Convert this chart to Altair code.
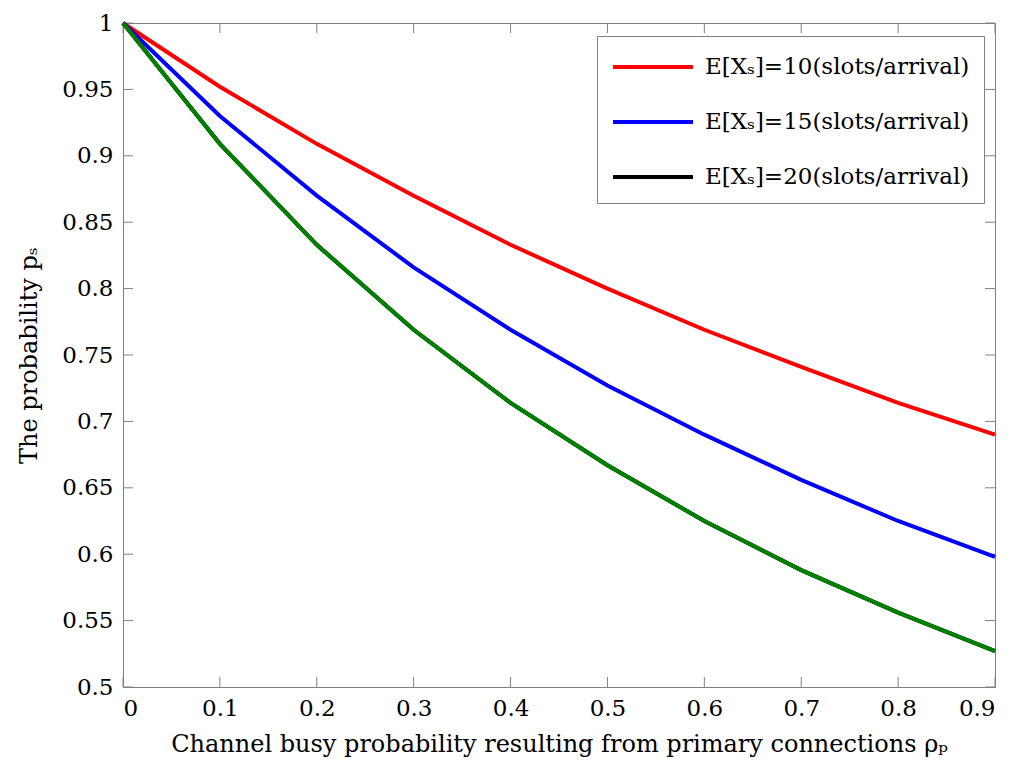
import pandas as pd
import altair as alt

# channel busy probability rho_p
rho_p = [0.0, 0.1, 0.2, 0.3, 0.4, 0.5, 0.6, 0.7, 0.8, 0.9]

# probability p_s
ps_10 = [1.000, 0.952, 0.909, 0.870, 0.833, 0.800, 0.769, 0.741, 0.714, 0.690]
ps_15 = [1.000, 0.930, 0.870, 0.816, 0.769, 0.727, 0.690, 0.656, 0.625, 0.598]
ps_20 = [1.000, 0.909, 0.833, 0.769, 0.714, 0.667, 0.625, 0.588, 0.556, 0.527]

series_labels = [
    "E[X\u209b]=10(slots/arrival)",
    "E[X\u209b]=15(slots/arrival)",
    "E[X\u209b]=20(slots/arrival)",
]
legend_colors = ["#ff0000", "#0000ff", "#000000"]

x_ticks = [0.0, 0.1, 0.2, 0.3, 0.4, 0.5, 0.6, 0.7, 0.8, 0.9]
y_ticks = [0.5, 0.55, 0.6, 0.65, 0.7, 0.75, 0.8, 0.85, 0.9, 0.95, 1.0]

FONT = "DejaVu Serif"
W, H = 872, 664
TICK = 10
FRAME = "#808080"


def build_frame():
    rows = []
    for label, vals in zip(series_labels, [ps_10, ps_15, ps_20]):
        for x, y in zip(rho_p, vals):
            rows.append({"rho": x, "ps": y, "series": label})
    return pd.DataFrame(rows)


df = build_frame()

x_scale = alt.Scale(domain=[0, 0.9], nice=False, zero=False)
y_scale = alt.Scale(domain=[0.5, 1.0], nice=False, zero=False)

x_axis = alt.Axis(values=x_ticks, format="~g", tickSize=0, grid=False,
                  labelFont=FONT, labelFontSize=23, labelColor="black",
                  titleFont=FONT, titleFontSize=24, titleColor="black",
                  titleFontWeight="normal",
                  labelPadding=10, titlePadding=12,
                  title="Channel busy probability resulting from primary connections \u03c1\u209a")
y_axis = alt.Axis(values=y_ticks, format="~g", tickSize=0, grid=False,
                  labelFont=FONT, labelFontSize=23, labelColor="black",
                  titleFont=FONT, titleFontSize=24, titleColor="black",
                  titleFontWeight="normal",
                  labelPadding=10, titlePadding=20,
                  title="The probability  p\u209b")

lines = alt.Chart(df).mark_line(strokeWidth=4).encode(
    x=alt.X("rho:Q", scale=x_scale, axis=x_axis),
    y=alt.Y("ps:Q", scale=y_scale, axis=y_axis),
    color=alt.Color("series:N",
                    scale=alt.Scale(domain=series_labels, range=legend_colors),
                    legend=alt.Legend(title=None, orient="none",
                                      legendX=474, legendY=13)),
)

# third curve is drawn green in the figure although its legend key is black
green = alt.Chart(df[df["series"] == series_labels[2]]).mark_line(
    strokeWidth=4, color="#008000"
).encode(x=alt.X("rho:Q", scale=x_scale), y=alt.Y("ps:Q", scale=y_scale))

xt = pd.DataFrame({"v": x_ticks})
yt = pd.DataFrame({"v": y_ticks})

tick_bottom = alt.Chart(xt).mark_rule(color=FRAME, strokeWidth=1).encode(
    x=alt.X("v:Q", scale=x_scale), y=alt.value(H), y2=alt.value(H - TICK))
tick_top = alt.Chart(xt).mark_rule(color=FRAME, strokeWidth=1).encode(
    x=alt.X("v:Q", scale=x_scale), y=alt.value(0), y2=alt.value(TICK))
tick_left = alt.Chart(yt).mark_rule(color=FRAME, strokeWidth=1).encode(
    y=alt.Y("v:Q", scale=y_scale), x=alt.value(0), x2=alt.value(TICK))
tick_right = alt.Chart(yt).mark_rule(color=FRAME, strokeWidth=1).encode(
    y=alt.Y("v:Q", scale=y_scale), x=alt.value(W), x2=alt.value(W - TICK))

chart = alt.layer(
    tick_bottom, tick_top, tick_left, tick_right, lines, green
).properties(
    width=W, height=H,
    autosize=alt.AutoSizeParams(type="none"),
    padding={"left": 115, "top": 15, "right": 15, "bottom": 80},
).configure_view(
    stroke=FRAME, strokeWidth=1
).configure_axis(
    domainColor=FRAME, domainWidth=1,
).configure_legend(
    labelFont=FONT, labelFontSize=23, labelColor="black", labelLimit=0,
    # 80px long key line, drawn from the left edge of a 30px symbol column
    symbolType="M-1,0L4.333,0", symbolSize=900, symbolStrokeWidth=4,
    fillColor="white", strokeColor=FRAME, padding=14,
    rowPadding=26, labelOffset=60,
)

chart.save("out.html", embed_options={"renderer": "svg", "actions": False})
